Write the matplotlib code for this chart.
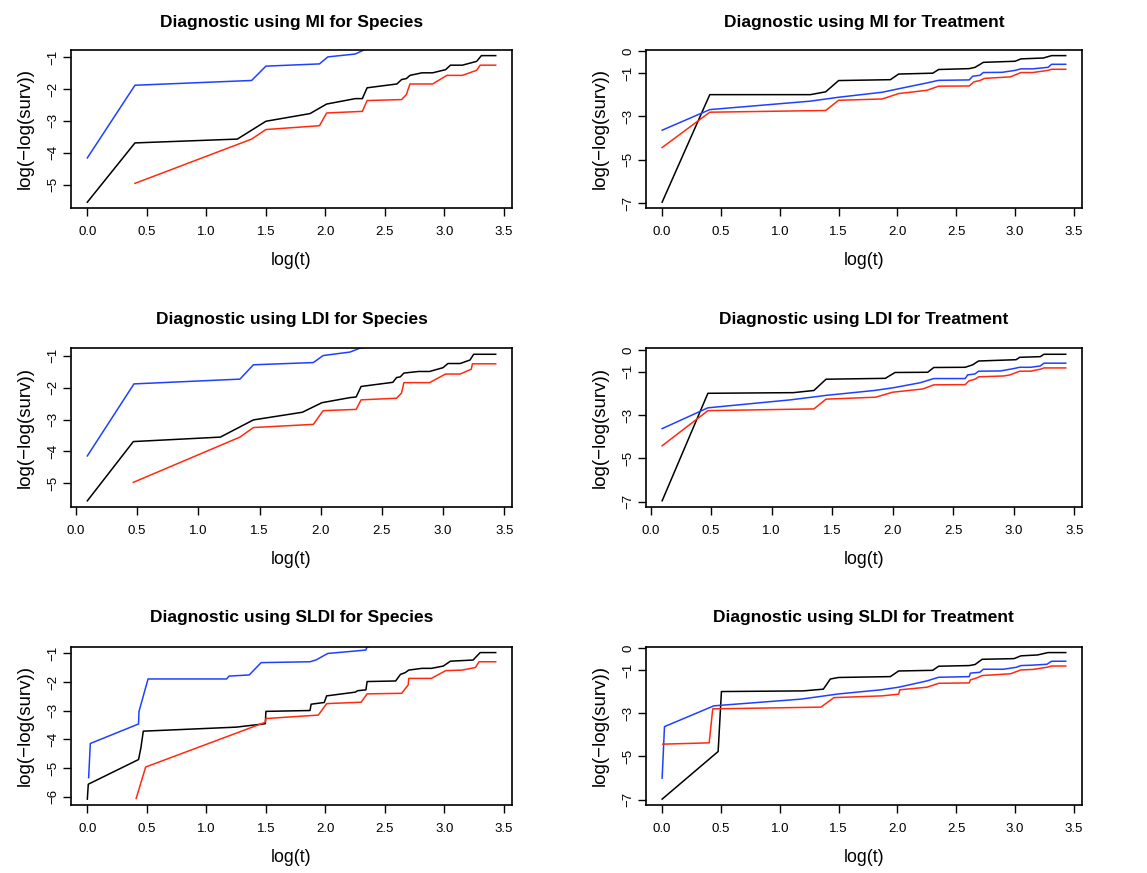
import matplotlib
matplotlib.use("Agg")
import matplotlib.pyplot as plt

plt.rcParams['font.family'] = ['Liberation Sans', 'DejaVu Sans']

# ---- MI, Species ----
mi_sp_black_x = [0.0, 0.40, 1.26, 1.50, 1.87, 2.01, 2.25, 2.31, 2.35, 2.60, 2.64, 2.68, 2.71, 2.81, 2.90, 3.01, 3.05, 3.15, 3.27, 3.31, 3.43]
mi_sp_black_y = [-5.55, -3.69, -3.57, -3.01, -2.77, -2.47, -2.30, -2.30, -1.96, -1.84, -1.70, -1.67, -1.57, -1.49, -1.49, -1.39, -1.25, -1.25, -1.13, -0.95, -0.95]
mi_sp_blue_x = [0.0, 0.40, 1.38, 1.50, 1.95, 2.02, 2.25, 2.33, 2.60, 3.00, 3.43]
mi_sp_blue_y = [-4.16, -1.88, -1.73, -1.28, -1.21, -0.99, -0.90, -0.76, -0.60, -0.45, -0.30]
mi_sp_red_x = [0.40, 1.38, 1.50, 1.95, 2.01, 2.31, 2.35, 2.64, 2.68, 2.71, 2.90, 3.02, 3.15, 3.27, 3.30, 3.43]
mi_sp_red_y = [-4.96, -3.57, -3.27, -3.15, -2.75, -2.70, -2.36, -2.33, -2.17, -1.84, -1.84, -1.57, -1.57, -1.41, -1.25, -1.25]

# ---- MI, Treatment ----
mi_tr_black_x = [0.0, 0.405, 1.26, 1.39, 1.50, 1.94, 2.01, 2.30, 2.35, 2.61, 2.66, 2.73, 3.00, 3.05, 3.24, 3.31, 3.43]
mi_tr_black_y = [-6.96, -2.00, -2.00, -1.87, -1.35, -1.31, -1.05, -1.01, -0.84, -0.80, -0.74, -0.51, -0.46, -0.35, -0.31, -0.20, -0.20]
mi_tr_blue_x = [0.0, 0.405, 1.26, 1.50, 1.87, 2.00, 2.25, 2.35, 2.61, 2.64, 2.70, 2.73, 2.89, 3.00, 3.05, 3.15, 3.28, 3.31, 3.43]
mi_tr_blue_y = [-3.64, -2.69, -2.30, -2.12, -1.89, -1.74, -1.46, -1.34, -1.32, -1.15, -1.11, -0.98, -0.97, -0.88, -0.81, -0.81, -0.74, -0.60, -0.60]
mi_tr_red_x = [0.0, 0.405, 1.39, 1.50, 1.87, 2.01, 2.25, 2.35, 2.61, 2.65, 2.70, 2.74, 2.96, 3.05, 3.15, 3.28, 3.31, 3.43]
mi_tr_red_y = [-4.44, -2.81, -2.73, -2.26, -2.20, -1.95, -1.80, -1.61, -1.60, -1.41, -1.35, -1.25, -1.18, -0.98, -0.98, -0.88, -0.83, -0.83]

# ---- LDI, Species ----
ldi_sp_black_x = [0.093, 0.469, 1.18, 1.45, 1.85, 2.01, 2.24, 2.29, 2.33, 2.59, 2.62, 2.65, 2.68, 2.80, 2.89, 3.00, 3.04, 3.14, 3.22, 3.25, 3.43]
ldi_sp_black_y = [-5.55, -3.69, -3.55, -3.01, -2.77, -2.47, -2.31, -2.29, -1.96, -1.83, -1.68, -1.66, -1.54, -1.49, -1.49, -1.37, -1.24, -1.24, -1.13, -0.95, -0.95]
ldi_sp_blue_x = [0.093, 0.474, 1.34, 1.45, 1.94, 2.02, 2.24, 2.32, 2.60, 3.00, 3.43]
ldi_sp_blue_y = [-4.14, -1.88, -1.73, -1.28, -1.21, -0.99, -0.88, -0.76, -0.60, -0.45, -0.30]
ldi_sp_red_x = [0.469, 1.34, 1.45, 1.94, 2.02, 2.29, 2.33, 2.62, 2.66, 2.68, 2.89, 3.02, 3.14, 3.23, 3.24, 3.43]
ldi_sp_red_y = [-4.97, -3.55, -3.25, -3.15, -2.72, -2.68, -2.38, -2.33, -2.17, -1.84, -1.84, -1.57, -1.57, -1.42, -1.25, -1.25]

# ---- LDI, Treatment ----
ldi_tr_black_x = [0.096, 0.474, 1.18, 1.35, 1.45, 1.94, 2.02, 2.29, 2.34, 2.60, 2.66, 2.71, 3.02, 3.05, 3.22, 3.25, 3.43]
ldi_tr_black_y = [-6.96, -2.00, -1.97, -1.87, -1.35, -1.31, -1.04, -1.03, -0.81, -0.80, -0.69, -0.51, -0.45, -0.34, -0.31, -0.20, -0.20]
ldi_tr_blue_x = [0.096, 0.474, 1.16, 1.46, 1.85, 2.01, 2.23, 2.34, 2.60, 2.62, 2.68, 2.71, 2.89, 3.00, 3.05, 3.14, 3.22, 3.25, 3.43]
ldi_tr_blue_y = [-3.63, -2.67, -2.30, -2.09, -1.87, -1.74, -1.51, -1.32, -1.32, -1.15, -1.11, -0.98, -0.97, -0.86, -0.80, -0.80, -0.74, -0.61, -0.61]
ldi_tr_red_x = [0.096, 0.474, 1.35, 1.45, 1.86, 2.00, 2.25, 2.34, 2.60, 2.63, 2.68, 2.71, 2.92, 2.97, 3.05, 3.14, 3.22, 3.25, 3.43]
ldi_tr_red_y = [-4.42, -2.80, -2.72, -2.27, -2.18, -1.95, -1.80, -1.61, -1.60, -1.43, -1.35, -1.24, -1.20, -1.15, -0.98, -0.98, -0.89, -0.83, -0.83]

# ---- SLDI, Species ----
sldi_sp_black_x = [0.0, 0.008, 0.43, 0.45, 0.47, 1.25, 1.495, 1.50, 1.87, 1.88, 1.99, 2.01, 2.25, 2.27, 2.34, 2.35, 2.59, 2.63, 2.67, 2.70, 2.81, 2.89, 2.99, 3.05, 3.24, 3.30, 3.43]
sldi_sp_black_y = [-6.08, -5.56, -4.70, -4.29, -3.71, -3.57, -3.45, -3.02, -2.99, -2.77, -2.71, -2.48, -2.35, -2.30, -2.27, -1.98, -1.96, -1.73, -1.67, -1.58, -1.52, -1.52, -1.44, -1.27, -1.23, -0.97, -0.97]
sldi_sp_blue_x = [0.011, 0.025, 0.43, 0.434, 0.51, 1.17, 1.19, 1.36, 1.46, 1.87, 1.92, 2.02, 2.24, 2.34, 2.35, 2.60, 3.00, 3.43]
sldi_sp_blue_y = [-5.33, -4.14, -3.46, -3.02, -1.89, -1.89, -1.79, -1.75, -1.32, -1.29, -1.23, -1.00, -0.92, -0.88, -0.77, -0.60, -0.45, -0.30]
sldi_sp_red_x = [0.41, 0.49, 1.495, 1.50, 1.94, 2.01, 2.30, 2.35, 2.64, 2.695, 2.70, 2.89, 3.01, 3.15, 3.26, 3.29, 3.43]
sldi_sp_red_y = [-6.06, -4.96, -3.40, -3.27, -3.15, -2.75, -2.70, -2.41, -2.39, -2.10, -1.87, -1.87, -1.60, -1.58, -1.49, -1.29, -1.29]

# ---- SLDI, Treatment ----
sldi_tr_black_x = [0.0, 0.476, 0.504, 1.20, 1.37, 1.43, 1.50, 1.94, 2.01, 2.30, 2.35, 2.61, 2.66, 2.72, 2.99, 3.05, 3.19, 3.28, 3.43]
sldi_tr_black_y = [-6.97, -4.77, -2.00, -1.97, -1.89, -1.42, -1.35, -1.31, -1.05, -1.02, -0.83, -0.80, -0.75, -0.51, -0.48, -0.35, -0.31, -0.20, -0.20]
sldi_tr_blue_x = [0.0, 0.02, 0.44, 1.18, 1.50, 1.86, 2.01, 2.25, 2.35, 2.61, 2.62, 2.70, 2.73, 2.90, 3.01, 3.05, 3.15, 3.27, 3.31, 3.43]
sldi_tr_blue_y = [-6.00, -3.62, -2.66, -2.35, -2.11, -1.92, -1.80, -1.51, -1.34, -1.31, -1.15, -1.11, -0.97, -0.97, -0.88, -0.80, -0.78, -0.74, -0.60, -0.60]
sldi_tr_red_x = [0.006, 0.40, 0.43, 1.35, 1.46, 1.87, 2.01, 2.02, 2.25, 2.35, 2.61, 2.62, 2.67, 2.72, 2.96, 3.05, 3.15, 3.27, 3.31, 3.43]
sldi_tr_red_y = [-4.43, -4.37, -2.80, -2.72, -2.28, -2.20, -2.12, -1.92, -1.80, -1.62, -1.60, -1.46, -1.38, -1.26, -1.18, -1.00, -0.98, -0.88, -0.82, -0.82]

titles = ['Diagnostic using MI for Species', 'Diagnostic using MI for Treatment',
          'Diagnostic using LDI for Species', 'Diagnostic using LDI for Treatment',
          'Diagnostic using SLDI for Species', 'Diagnostic using SLDI for Treatment']

panels = [
    (mi_sp_black_x, mi_sp_black_y, mi_sp_blue_x, mi_sp_blue_y, mi_sp_red_x, mi_sp_red_y),
    (mi_tr_black_x, mi_tr_black_y, mi_tr_blue_x, mi_tr_blue_y, mi_tr_red_x, mi_tr_red_y),
    (ldi_sp_black_x, ldi_sp_black_y, ldi_sp_blue_x, ldi_sp_blue_y, ldi_sp_red_x, ldi_sp_red_y),
    (ldi_tr_black_x, ldi_tr_black_y, ldi_tr_blue_x, ldi_tr_blue_y, ldi_tr_red_x, ldi_tr_red_y),
    (sldi_sp_black_x, sldi_sp_black_y, sldi_sp_blue_x, sldi_sp_blue_y, sldi_sp_red_x, sldi_sp_red_y),
    (sldi_tr_black_x, sldi_tr_black_y, sldi_tr_blue_x, sldi_tr_blue_y, sldi_tr_red_x, sldi_tr_red_y),
]

species_yticks = [-6, -5, -4, -3, -2, -1]
treat_yticks = [-7, -5, -3, -1, 0]
xticks = [0.0, 0.5, 1.0, 1.5, 2.0, 2.5, 3.0, 3.5]

fig = plt.figure(figsize=(11.47, 8.73), dpi=100)

lefts = [0.0619, 0.5632]
widths = [0.3845, 0.380]
bottoms = [0.7617, 0.4196, 0.0779]
height = 0.1813
title_pads = [16.5, 17.5, 18]

for i in range(6):
    r, c = i // 2, i % 2
    ax = fig.add_axes([lefts[c], bottoms[r], widths[c], height])
    bx, by, ux, uy, rx, ry = panels[i]
    ax.plot(bx, by, color='black', lw=1.1)
    ax.plot(ux, uy, color='#2040ff', lw=1.1)
    ax.plot(rx, ry, color='#ff2a10', lw=1.1)
    # R style limits: range of first series plus 4%
    dx = (max(bx) - min(bx)) * 0.04
    dy = (max(by) - min(by)) * 0.04
    ax.set_xlim(min(bx) - dx, max(bx) + dx)
    ax.set_ylim(min(by) - dy, max(by) + dy)
    ax.set_xticks(xticks)
    ax.set_xticklabels(['%.1f' % v for v in xticks])
    yt = species_yticks if c == 0 else treat_yticks
    yt = [v for v in yt if min(by) - dy <= v <= max(by) + dy]
    ax.set_yticks(yt)
    ax.set_yticklabels(['\u2212%d' % -v if v < 0 else '%d' % v for v in yt],
                       rotation=90, va='center')
    ax.tick_params(direction='out', length=5.5, width=1, labelsize=9.5, colors='black')
    ax.tick_params(axis='x', pad=7.5)
    ax.tick_params(axis='y', pad=3)
    for s in ax.spines.values():
        s.set_linewidth(1.2)
    ax.set_title(titles[i], fontsize=12.5, fontweight='bold', pad=title_pads[r])
    ax.set_xlabel('log(t)', fontsize=12.8, labelpad=10)
    ax.set_ylabel('log(\u2212log(surv))', fontsize=13.5, labelpad=10)

plt.savefig('out.png', dpi=100)
